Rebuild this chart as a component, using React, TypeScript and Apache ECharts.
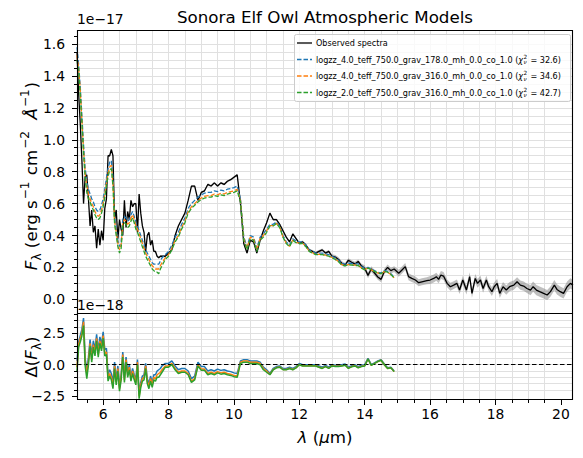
import React, { useEffect, useRef } from 'react';
import * as echarts from 'echarts';

// ---------------- data (flux in units of 1e-17 erg s^-1 cm^-2 Å^-1) ----------------
const wavelength = [
  5.20, 5.25, 5.30, 5.35, 5.40, 5.45, 5.50, 5.55, 5.60, 5.65, 5.70, 5.75, 5.80, 5.85, 5.90, 5.95,
  6.00, 6.05, 6.10, 6.15, 6.20, 6.25, 6.30, 6.35, 6.40, 6.45, 6.50, 6.55, 6.60, 6.65, 6.70, 6.75,
  6.80, 6.85, 6.90, 6.95, 7.00, 7.05, 7.10, 7.15, 7.20, 7.25, 7.30, 7.35, 7.40, 7.45, 7.50, 7.55,
  7.60, 7.65, 7.70, 7.75, 7.80,
  7.9, 8.0, 8.1, 8.2, 8.3, 8.4, 8.5, 8.6, 8.7, 8.8, 8.9,
  9.0, 9.1, 9.2, 9.3, 9.4, 9.5, 9.6, 9.7, 9.8, 9.9,
  10.0, 10.1, 10.2, 10.3, 10.4, 10.5, 10.6, 10.7, 10.8, 10.9,
  11.0, 11.1, 11.2, 11.3, 11.4, 11.5, 11.6, 11.7, 11.8, 11.9,
  12.0, 12.1, 12.2, 12.3, 12.4, 12.5, 12.6, 12.7, 12.8, 12.9,
  13.0, 13.1, 13.2, 13.3, 13.4, 13.5, 13.6, 13.7, 13.8, 13.9,
  14.0, 14.1, 14.2, 14.3, 14.4, 14.5, 14.6, 14.7, 14.8, 14.9,
  15.04, 15.14, 15.24, 15.34, 15.44, 15.55, 15.65, 15.75, 15.90,
  16.00, 16.11, 16.19, 16.26, 16.33, 16.41, 16.52, 16.62, 16.72, 16.82, 16.90,
  17.00, 17.11, 17.21, 17.28, 17.38, 17.45, 17.54, 17.62, 17.72, 17.79, 17.89, 17.96,
  18.05, 18.13, 18.23, 18.33, 18.43, 18.56, 18.66, 18.76, 18.86, 18.96,
  19.07, 19.15, 19.25, 19.35, 19.47, 19.58, 19.68, 19.80, 19.88, 19.98, 20.08, 20.19, 20.29, 20.37,
];

const observedFlux = [
  1.55, 1.29, 1.10, 0.87, 0.60, 0.77, 0.78, 0.63, 0.46, 0.56, 0.42, 0.46, 0.32, 0.44, 0.34, 0.43,
  0.37, 0.57, 0.63, 0.90, 0.90, 0.94, 0.90, 0.50, 0.56, 0.38, 0.50, 0.44, 0.40, 0.62, 0.45, 0.55,
  0.50, 0.62, 0.58, 0.60, 0.60, 0.42, 0.66, 0.54, 0.46, 0.42, 0.30, 0.40, 0.42, 0.34, 0.37, 0.30,
  0.30, 0.27, 0.26, 0.27, 0.27,
  0.27, 0.29, 0.31, 0.40, 0.46, 0.50, 0.54, 0.62, 0.71, 0.71, 0.62,
  0.67, 0.68, 0.72, 0.71, 0.73, 0.71, 0.73, 0.72, 0.74, 0.75,
  0.765, 0.78, 0.60, 0.35, 0.29, 0.37, 0.36, 0.29, 0.37, 0.43,
  0.48, 0.54, 0.50, 0.50, 0.47, 0.43, 0.39, 0.36, 0.41, 0.38,
  0.35, 0.36, 0.34, 0.31, 0.30, 0.29, 0.30, 0.31, 0.29, 0.30,
  0.27, 0.265, 0.25, 0.225, 0.215, 0.245, 0.232, 0.222, 0.237, 0.21,
  0.195, 0.15, 0.19, 0.165, 0.14, 0.125, 0.175, 0.20, 0.18, 0.19,
  0.163, 0.184, 0.205, 0.142, 0.131, 0.121, 0.104, 0.110, 0.117,
  0.121, 0.131, 0.142, 0.125, 0.152, 0.146, 0.100, 0.079, 0.089, 0.100, 0.058,
  0.121, 0.058, 0.142, 0.037, 0.131, 0.100, 0.121, 0.068, 0.121, 0.079, 0.048, 0.079,
  0.100, 0.037, 0.079, 0.058, 0.079, 0.089, 0.110, 0.089, 0.083, 0.068,
  0.058, 0.079, 0.058, 0.048, 0.037, 0.027, 0.048, 0.089, 0.062, 0.048, 0.037, 0.079, 0.100, 0.089,
];

const observedError = [
  0.006, 0.006, 0.006, 0.006, 0.006, 0.006, 0.006, 0.006, 0.006, 0.006, 0.006, 0.006, 0.006, 0.006, 0.006, 0.006,
  0.006, 0.006, 0.006, 0.006, 0.006, 0.006, 0.006, 0.006, 0.006, 0.006, 0.006, 0.006, 0.006, 0.006, 0.006, 0.006,
  0.006, 0.006, 0.006, 0.006, 0.006, 0.006, 0.006, 0.006, 0.006, 0.006, 0.006, 0.006, 0.006, 0.006, 0.006, 0.006,
  0.006, 0.006, 0.006, 0.006, 0.006,
  0.007, 0.007, 0.007, 0.007, 0.007, 0.007, 0.007, 0.007, 0.007, 0.007, 0.007,
  0.007, 0.007, 0.007, 0.007, 0.007, 0.007, 0.007, 0.007, 0.007, 0.007,
  0.007, 0.007, 0.007, 0.007, 0.007, 0.007, 0.007, 0.007, 0.007, 0.007,
  0.007, 0.007, 0.007, 0.007, 0.007, 0.007, 0.007, 0.007, 0.007, 0.007,
  0.009, 0.009, 0.009, 0.009, 0.009, 0.009, 0.009, 0.009, 0.009, 0.009,
  0.013, 0.013, 0.013, 0.013, 0.013, 0.013, 0.013, 0.013, 0.013, 0.013,
  0.018, 0.018, 0.018, 0.018, 0.018, 0.018, 0.018, 0.018, 0.018, 0.018,
  0.022, 0.022, 0.022, 0.022, 0.022, 0.022, 0.022, 0.022, 0.022,
  0.025, 0.025, 0.025, 0.025, 0.025, 0.025, 0.025, 0.025, 0.025, 0.025, 0.025,
  0.027, 0.027, 0.027, 0.027, 0.027, 0.027, 0.027, 0.027, 0.027, 0.027, 0.027, 0.027,
  0.029, 0.029, 0.029, 0.029, 0.029, 0.029, 0.029, 0.029, 0.029, 0.029,
  0.032, 0.032, 0.032, 0.032, 0.032, 0.032, 0.032, 0.032, 0.032, 0.032, 0.032, 0.032, 0.032, 0.032,
];

// models cover wavelength[0 .. 123] (5.2 – 14.9 µm)
const modelGrav178 = [
  1.58, 1.47, 1.33, 1.15, 0.97, 0.82, 0.74, 0.69, 0.66, 0.63, 0.61, 0.58, 0.56, 0.55, 0.56, 0.59,
  0.63, 0.69, 0.76, 0.82, 0.86, 0.87, 0.76, 0.52, 0.44, 0.37, 0.33, 0.36, 0.50, 0.52, 0.51, 0.49,
  0.50, 0.53, 0.55, 0.52, 0.48, 0.46, 0.43, 0.40, 0.37, 0.34, 0.31, 0.29, 0.27, 0.25, 0.23, 0.22,
  0.22, 0.22, 0.22, 0.24, 0.26,
  0.28, 0.30, 0.34, 0.39, 0.42, 0.47, 0.51, 0.57, 0.60, 0.62, 0.64,
  0.655, 0.665, 0.67, 0.67, 0.68, 0.675, 0.685, 0.68, 0.69, 0.695,
  0.70, 0.71, 0.63, 0.39, 0.33, 0.40, 0.39, 0.32, 0.39, 0.41,
  0.44, 0.47, 0.47, 0.485, 0.46, 0.40, 0.36, 0.34, 0.38, 0.365,
  0.36, 0.36, 0.34, 0.31, 0.30, 0.29, 0.29, 0.29, 0.285, 0.28,
  0.27, 0.26, 0.245, 0.225, 0.22, 0.226, 0.225, 0.222, 0.222, 0.205,
  0.195, 0.20, 0.19, 0.18, 0.17, 0.165, 0.18, 0.175, 0.16, 0.14,
];

const modelGrav316 = [
  1.53, 1.45, 1.31, 1.12, 0.94, 0.79, 0.71, 0.66, 0.63, 0.60, 0.58, 0.55, 0.53, 0.52, 0.53, 0.56,
  0.60, 0.66, 0.73, 0.79, 0.83, 0.84, 0.73, 0.49, 0.42, 0.35, 0.31, 0.34, 0.48, 0.50, 0.49, 0.47,
  0.48, 0.51, 0.53, 0.50, 0.46, 0.44, 0.41, 0.38, 0.35, 0.32, 0.29, 0.27, 0.25, 0.23, 0.21, 0.20,
  0.19, 0.19, 0.19, 0.21, 0.23,
  0.26, 0.28, 0.32, 0.37, 0.40, 0.45, 0.49, 0.55, 0.58, 0.60, 0.62,
  0.635, 0.645, 0.65, 0.65, 0.66, 0.655, 0.665, 0.66, 0.67, 0.675,
  0.68, 0.69, 0.62, 0.38, 0.32, 0.39, 0.38, 0.31, 0.38, 0.40,
  0.43, 0.462, 0.462, 0.477, 0.452, 0.392, 0.352, 0.332, 0.372, 0.357,
  0.352, 0.352, 0.332, 0.302, 0.292, 0.282, 0.282, 0.282, 0.277, 0.272,
  0.262, 0.252, 0.237, 0.217, 0.212, 0.218, 0.217, 0.214, 0.214, 0.197,
  0.187, 0.195, 0.185, 0.175, 0.165, 0.16, 0.175, 0.17, 0.155, 0.135,
];

const modelLogzz2 = [
  1.50, 1.43, 1.28, 1.10, 0.91, 0.76, 0.67, 0.63, 0.61, 0.58, 0.56, 0.53, 0.51, 0.50, 0.51, 0.54,
  0.58, 0.64, 0.71, 0.77, 0.81, 0.82, 0.71, 0.47, 0.40, 0.33, 0.29, 0.32, 0.46, 0.48, 0.47, 0.45,
  0.46, 0.49, 0.51, 0.48, 0.44, 0.42, 0.39, 0.36, 0.33, 0.30, 0.27, 0.25, 0.23, 0.21, 0.19, 0.18,
  0.17, 0.17, 0.16, 0.19, 0.21,
  0.25, 0.27, 0.31, 0.36, 0.39, 0.44, 0.48, 0.54, 0.57, 0.59, 0.61,
  0.625, 0.635, 0.64, 0.64, 0.65, 0.645, 0.655, 0.65, 0.66, 0.665,
  0.67, 0.68, 0.61, 0.37, 0.31, 0.38, 0.37, 0.30, 0.37, 0.39,
  0.42, 0.46, 0.46, 0.475, 0.45, 0.39, 0.35, 0.33, 0.37, 0.355,
  0.35, 0.35, 0.33, 0.30, 0.29, 0.28, 0.28, 0.28, 0.275, 0.27,
  0.26, 0.25, 0.235, 0.215, 0.21, 0.216, 0.215, 0.212, 0.212, 0.195,
  0.185, 0.195, 0.185, 0.175, 0.165, 0.16, 0.175, 0.17, 0.155, 0.135,
];

const modelLabels = [
  'logzz_4.0_teff_750.0_grav_178.0_mh_0.0_co_1.0',
  'logzz_4.0_teff_750.0_grav_316.0_mh_0.0_co_1.0',
  'logzz_2.0_teff_750.0_grav_316.0_mh_0.0_co_1.0',
];
const chiSquared = [32.6, 34.6, 42.7];
const modelColors = ['#1f77b4', '#ff7f0e', '#2ca02c'];
const models = [modelGrav178, modelGrav316, modelLogzz2];

const xMajorTicks = [6, 8, 10, 12, 14, 16, 18, 20];
const fluxMajorTicks = [0.0, 0.2, 0.4, 0.6, 0.8, 1.0, 1.2, 1.4, 1.6];
const residualMajorTicks = [-2.5, 0.0, 2.5];

// ---------------- layout / style ----------------
const FONT = '"DejaVu Sans", sans-serif';
const GRID_COLOR = '#e0e0e0';
const X_MIN = 5.2, X_MAX = 20.37;
const FLUX_MIN = -0.092, FLUX_MAX = 1.688;
const RES_MIN = -2.8, RES_MAX = 4.02;
const LEFT = 77, WIDTH = 496;
const TOP1 = 30, H1 = 284, TOP2 = 314, H2 = 86;
const TICK_FS = 13.9;

function minorValues(min: number, max: number, step: number) {
  const out: number[] = [];
  for (let k = Math.ceil(min / step - 1e-9); k * step <= max + 1e-9; k++) out.push(+(k * step).toFixed(4));
  return out.filter((v) => v > min + 1e-6 && v < max - 1e-6);
}

function tickFmt(ticks: number[], digits: number) {
  return (v: number) =>
    ticks.some((t) => Math.abs(t - v) < 1e-6) ? (v < 0 ? '\u2212' : '') + Math.abs(v).toFixed(digits) : '';
}

const tickLine = { color: '#000', width: 1 };

function minorX(gridIndex: number, ticks: boolean) {
  return {
    gridIndex, type: 'value', position: 'bottom', min: X_MIN, max: X_MAX, minInterval: 0.5, maxInterval: 0.5,
    axisLine: { show: false, onZero: false },
    axisTick: { show: ticks, length: 3, lineStyle: tickLine, customValues: minorValues(X_MIN, X_MAX, 0.5) },
    axisLabel: { show: false },
    splitLine: { show: true, showMinLine: false, showMaxLine: false, lineStyle: { color: GRID_COLOR, width: 1 } },
  };
}

function minorY(gridIndex: number, min: number, max: number, step: number) {
  return {
    gridIndex, type: 'value', position: 'left', min, max, minInterval: step, maxInterval: step,
    axisLine: { show: false, onZero: false },
    axisTick: { show: true, length: 3, lineStyle: tickLine, customValues: minorValues(min, max, step) },
    axisLabel: { show: false },
    splitLine: { show: true, showMinLine: false, showMaxLine: false, lineStyle: { color: GRID_COLOR, width: 1 } },
  };
}

function majorY(gridIndex: number, min: number, max: number, step: number, ticks: number[]) {
  return {
    gridIndex, type: 'value', position: 'left', min, max, minInterval: step, maxInterval: step,
    axisLine: { show: false, onZero: false },
    axisTick: { show: true, length: 5, lineStyle: tickLine, customValues: ticks },
    axisLabel: {
      show: true, customValues: ticks, margin: 12, fontSize: TICK_FS, fontFamily: FONT, color: '#000',
      formatter: tickFmt(ticks, 1),
    },
    splitLine: { show: false },
  };
}

function txt(text: string, x: number, y: number, font: string, align = 'left', extra: any = {}) {
  return {
    type: 'text', x, y, z: 60, silent: true,
    style: { text, font, fill: '#000', align, textAlign: align, verticalAlign: 'middle', textVerticalAlign: 'middle', ...extra },
  };
}

function legendGraphics() {
  const els: any[] = [];
  const fs = 8.1, sfs = 5.7;
  const font = `${fs}px ${FONT}`;
  const ifont = `italic ${fs}px ${FONT}`;
  const sfont = `${sfs}px ${FONT}`;
  const sifont = `italic ${sfs}px ${FONT}`;
  const ctx = document.createElement('canvas').getContext('2d')!;
  const w = (t: string, f: string) => { ctx.font = f; return ctx.measureText(t).width; };
  els.push({
    type: 'rect', z: 50, silent: true,
    shape: { x: 294.5, y: 34.5, width: 276, height: 67, r: 2 },
    style: { fill: 'rgba(255,255,255,0.8)', stroke: '#cccccc', lineWidth: 1 },
  });
  const rowsY = [43, 59.5, 76, 92.5];
  const x1 = 297, x2 = 312, tx = 316;
  els.push({ type: 'line', z: 55, silent: true, shape: { x1, y1: rowsY[0], x2, y2: rowsY[0] }, style: { stroke: '#000', lineWidth: 1.3 } });
  els.push(txt('Observed spectra', tx, rowsY[0], font));
  modelLabels.forEach((lab, j) => {
    const y = rowsY[j + 1];
    els.push({
      type: 'line', z: 55, silent: true, shape: { x1, y1: y, x2, y2: y },
      style: { stroke: modelColors[j], lineWidth: 1.3, lineDash: [4.5, 2] },
    });
    const t1 = `${lab} (`;
    let x = tx;
    els.push(txt(t1, x, y, font));
    x += w(t1, font);
    els.push(txt('\u03c7', x, y, ifont));
    x += w('\u03c7', ifont) + 0.5;
    els.push(txt('2', x, y - 2.8, sfont));
    els.push(txt('\u03bd', x, y + 2.6, sifont));
    x += Math.max(w('2', sfont), w('\u03bd', sifont)) + 0.6;
    els.push(txt(` = ${chiSquared[j].toFixed(1)})`, x, y, font));
  });
  return els;
}

function buildOption() {
  const obsPairs = wavelength.map((x, i) => [x, observedFlux[i]]);
  const labelRich = {
    n: { fontSize: 16.7, fontFamily: FONT, lineHeight: 24, verticalAlign: 'middle', color: '#000' },
    it: { fontSize: 16.7, fontFamily: FONT, fontStyle: 'italic', lineHeight: 24, verticalAlign: 'middle', color: '#000' },
    sup: { fontSize: 12, fontFamily: FONT, lineHeight: 12, verticalAlign: 'top', color: '#000', padding: [0, 1, 0, 1] },
    sub: { fontSize: 12, fontFamily: FONT, lineHeight: 12, verticalAlign: 'bottom', color: '#000' },
  };

  const series: any[] = [
    {
      type: 'custom', name: 'error', xAxisIndex: 0, yAxisIndex: 1, clip: true, z: 1, silent: true,
      data: [[wavelength[0], observedFlux[0]]],
      renderItem: (_p: any, api: any) => {
        const upper = wavelength.map((x, i) => api.coord([x, observedFlux[i] + observedError[i]]));
        const lower = wavelength.map((x, i) => api.coord([x, observedFlux[i] - observedError[i]])).reverse();
        return { type: 'polygon', shape: { points: upper.concat(lower) }, style: { fill: 'rgba(128,128,128,0.5)', stroke: 'none' } };
      },
    },
    {
      type: 'line', name: 'Observed spectra', xAxisIndex: 0, yAxisIndex: 1, data: obsPairs,
      symbol: 'none', showSymbol: false, z: 2, silent: true, lineStyle: { color: '#000', width: 1.3 },
    },
  ];
  models.forEach((m, j) => {
    series.push({
      type: 'line', name: modelLabels[j], xAxisIndex: 0, yAxisIndex: 1,
      data: m.map((v, i) => [wavelength[i], v]),
      symbol: 'none', showSymbol: false, z: 3 + j, silent: true,
      lineStyle: { color: modelColors[j], width: 1.3, type: [4.5, 2] },
    });
  });
  models.forEach((m, j) => {
    const s: any = {
      type: 'line', name: 'resid ' + modelLabels[j], xAxisIndex: 2, yAxisIndex: 3,
      // residual = model - observed, converted from 1e-17 to 1e-18 units
      data: m.map((v, i) => [wavelength[i], (v - observedFlux[i]) * 10]),
      symbol: 'none', showSymbol: false, z: 3 + j, silent: true,
      lineStyle: { color: modelColors[j], width: 1.5 },
    };
    if (j === models.length - 1) {
      s.markLine = {
        silent: true, symbol: ['none', 'none'], label: { show: false }, animation: false,
        lineStyle: { color: '#000', width: 1.1, type: [4.5, 2.5] },
        data: [{ yAxis: 0 }],
      };
    }
    series.push(s);
  });

  const graphic: any[] = [
    // spines
    { type: 'rect', z: 40, silent: true, shape: { x: LEFT + 0.5, y: TOP1 + 0.5, width: WIDTH - 1, height: H1 - 1 }, style: { fill: 'none', stroke: '#000', lineWidth: 1.1 } },
    { type: 'rect', z: 40, silent: true, shape: { x: LEFT + 0.5, y: TOP2 - 0.5, width: WIDTH - 1, height: H2 }, style: { fill: 'none', stroke: '#000', lineWidth: 1.1 } },
    txt('Sonora Elf Owl Atmospheric Models', LEFT + WIDTH / 2, 16.5, `16.7px ${FONT}`, 'center'),
    txt('1e\u221217', LEFT, 19, `${TICK_FS}px ${FONT}`),
    txt('1e\u221218', LEFT, 305, `${TICK_FS}px ${FONT}`),
    {
      type: 'text', x: 31, y: TOP1 + H1 / 2 + 4, rotation: Math.PI / 2, z: 60, silent: true,
      style: {
        text: '{it|F}{sub|\u03bb}{n| (erg s}{sup|\u22121}{n| cm}{sup|\u22122}{n|  }{it|\u00c5}{sup|\u22121}{n|)}',
        align: 'center', textAlign: 'center', verticalAlign: 'middle', textVerticalAlign: 'middle', rich: labelRich,
      },
    },
    {
      type: 'text', x: 31, y: TOP2 + H2 / 2, rotation: Math.PI / 2, z: 60, silent: true,
      style: {
        text: '{n|\u0394(}{it|F}{sub|\u03bb}{n|)}',
        align: 'center', textAlign: 'center', verticalAlign: 'middle', textVerticalAlign: 'middle', rich: labelRich,
      },
    },
    {
      type: 'text', x: LEFT + WIDTH / 2, y: 437, z: 60, silent: true,
      style: {
        text: '{it|\u03bb}{n| (}{it|\u03bc}{n|m)}',
        align: 'center', textAlign: 'center', verticalAlign: 'middle', textVerticalAlign: 'middle', rich: labelRich,
      },
    },
    ...legendGraphics(),
  ];

  return {
    animation: false,
    backgroundColor: '#ffffff',
    textStyle: { fontFamily: FONT },
    grid: [
      { left: LEFT, top: TOP1, width: WIDTH, height: H1, show: false, containLabel: false },
      { left: LEFT, top: TOP2, width: WIDTH, height: H2, show: false, containLabel: false },
    ],
    xAxis: [
      minorX(0, false),
      minorX(1, true),
      {
        gridIndex: 1, type: 'value', position: 'bottom', min: X_MIN, max: X_MAX, minInterval: 2, maxInterval: 2,
        axisLine: { show: false, onZero: false },
        axisTick: { show: true, length: 5, lineStyle: tickLine, customValues: xMajorTicks },
        axisLabel: {
          show: true, customValues: xMajorTicks, margin: 7, fontSize: TICK_FS, fontFamily: FONT, color: '#000',
          formatter: tickFmt(xMajorTicks, 0),
        },
        splitLine: { show: false },
      },
    ],
    yAxis: [
      minorY(0, FLUX_MIN, FLUX_MAX, 0.05),
      majorY(0, FLUX_MIN, FLUX_MAX, 0.2, fluxMajorTicks),
      minorY(1, RES_MIN, RES_MAX, 0.5),
      majorY(1, RES_MIN, RES_MAX, 2.5, residualMajorTicks),
    ],
    series,
    graphic,
  };
}

export default function App() {
  const ref = useRef<HTMLDivElement>(null);
  useEffect(() => {
    if (!ref.current) return;
    const chart = echarts.init(ref.current, null, { renderer: 'svg' });
    chart.setOption(buildOption() as any);
    return () => chart.dispose();
  }, []);
  return <div ref={ref} style={{ position: 'fixed', left: 0, top: 0, width: 583, height: 458, background: '#fff' }} />;
}
